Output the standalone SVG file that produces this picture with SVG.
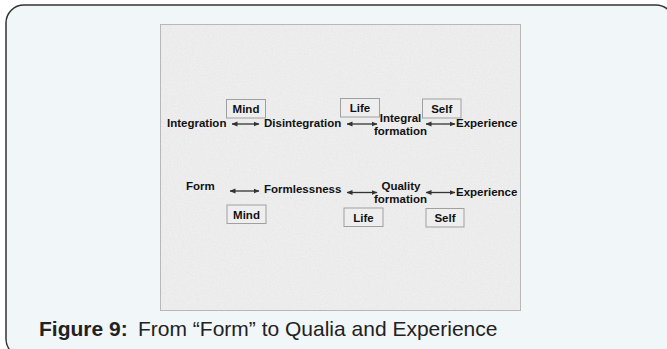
<svg xmlns="http://www.w3.org/2000/svg" width="667" height="349" viewBox="0 0 667 349">
<style>
.t{font-family:"Liberation Sans",Arial,sans-serif;font-weight:bold;font-size:11.5px;fill:#111}
.box{fill:#eeeeee;stroke:#a0a0a0;stroke-width:1}
.arr{stroke:#333;stroke-width:1.3;fill:none;marker-start:url(#ah);marker-end:url(#ah)}
.cap{font-family:"Liberation Sans",Arial,sans-serif;font-size:21px;fill:#222}
</style>
<defs>
<marker id="ah" viewBox="0 0 6 6" refX="5.5" refY="3" markerWidth="6" markerHeight="6" markerUnits="userSpaceOnUse" orient="auto-start-reverse">
<path d="M0,0.6 L6,3 L0,5.4 Z" fill="#333"/>
</marker>
<filter id="noise" x="0" y="0" width="100%" height="100%">
<feTurbulence type="fractalNoise" baseFrequency="0.75" numOctaves="3" seed="4"/>
<feColorMatrix type="matrix" values="0.4 0 0 0 0.6  0.4 0 0 0 0.6  0.4 0 0 0 0.6  0 0 0 0 0.28"/>
</filter>
</defs>
<rect x="0" y="0" width="667" height="349" fill="#ffffff"/>
<rect x="6" y="5" width="668" height="352" rx="18" fill="#f1f6f9" stroke="#333" stroke-width="1.5"/>
<g id="panel">
<rect x="160.5" y="24.5" width="360" height="286" fill="#eeeeee" stroke="#b8b8b8" stroke-width="1"/>
<rect x="161" y="25" width="359" height="285" fill="#fff" filter="url(#noise)"/>
</g>
<g id="connectors">
<line class="arr" x1="232" y1="124" x2="259" y2="124"/>
<line class="arr" x1="347" y1="124" x2="377" y2="124"/>
<line class="arr" x1="426" y1="124" x2="455" y2="124"/>
<line class="arr" x1="230" y1="191" x2="259" y2="191"/>
<line class="arr" x1="347" y1="192.5" x2="377" y2="192.5"/>
<line class="arr" x1="426" y1="192.5" x2="455" y2="192.5"/>
</g>
<g id="integration"><text class="t" x="167" y="127">Integration</text></g>
<g id="disintegration"><text class="t" x="264" y="127">Disintegration</text></g>
<g id="integral-formation"><text class="t" x="400.5" y="122" text-anchor="middle">Integral</text><text class="t" x="400.5" y="135" text-anchor="middle">formation</text></g>
<g id="experience1"><text class="t" x="456" y="127">Experience</text></g>
<g id="mind1"><rect class="box" x="226.5" y="99.5" width="39" height="18.5"/><text class="t" x="246" y="112.5" text-anchor="middle">Mind</text></g>
<g id="life1"><rect class="box" x="340.5" y="98.5" width="39" height="18.5"/><text class="t" x="360" y="111.5" text-anchor="middle">Life</text></g>
<g id="self1"><rect class="box" x="422.5" y="99" width="38.5" height="19"/><text class="t" x="441.7" y="112.5" text-anchor="middle">Self</text></g>
<g id="form"><text class="t" x="186" y="190">Form</text></g>
<g id="formlessness"><text class="t" x="264" y="193">Formlessness</text></g>
<g id="quality-formation"><text class="t" x="401" y="190" text-anchor="middle">Quality</text><text class="t" x="400.5" y="203" text-anchor="middle">formation</text></g>
<g id="experience2"><text class="t" x="456" y="196">Experience</text></g>
<g id="mind2"><rect class="box" x="227" y="205" width="39" height="18.5"/><text class="t" x="246.5" y="218.5" text-anchor="middle">Mind</text></g>
<g id="life2"><rect class="box" x="344" y="208" width="39" height="18.5"/><text class="t" x="363.5" y="221.5" text-anchor="middle">Life</text></g>
<g id="self2"><rect class="box" x="426" y="208.5" width="38" height="18.5"/><text class="t" x="445" y="222" text-anchor="middle">Self</text></g>
<g id="caption"><text class="cap" x="39" y="336"><tspan font-weight="bold">Figure 9:</tspan><tspan x="138">From “Form” to Qualia and Experience</tspan></text></g>
</svg>
